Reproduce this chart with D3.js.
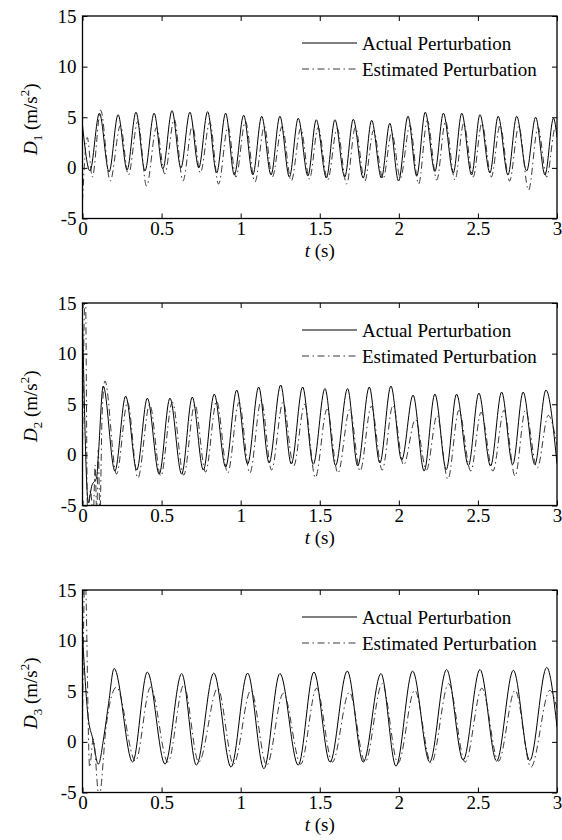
<!DOCTYPE html>
<html>
<head>
<meta charset="utf-8">
<script src="https://cdn.jsdelivr.net/npm/d3@7"></script>
<style>
  body { margin: 0; background: #fff; }
  svg { display: block; }
  .tick text, .lbl { font-family: "Liberation Serif", "Times New Roman", serif; font-size: 19px; fill: #000; }
</style>
</head>
<body>
<div id="chart"></div>
<script>
// tick values and labels
const xTicks = [0, 0.5, 1, 1.5, 2, 2.5, 3];
const yTicks = [-5, 0, 5, 10, 15];
const seriesNames = ["Actual Perturbation", "Estimated Perturbation"];
const panelIndex = ["1", "2", "3"];

// [t, value] (peaks / troughs mostly)
const d1Actual = [[0, 4.2], [0.047, -0.3], [0.107, 5.4], [0.168, -0.4], [0.225, 5.25], [0.282, -0.2], [0.338, 5.5], [0.395, -0.3],
  [0.453, 5.4], [0.508, -0.1], [0.566, 5.65], [0.622, 0], [0.679, 5.5], [0.735, 0], [0.791, 5.55], [0.848, -0.5], [0.905, 5.4],
  [0.96, -0.7], [1.019, 5.2], [1.077, -0.7], [1.133, 5.1], [1.192, -0.7], [1.248, 5.1], [1.308, -0.9], [1.364, 4.9], [1.425, -0.8],
  [1.478, 4.75], [1.542, -1.0], [1.596, 4.75], [1.658, -0.9], [1.712, 4.8], [1.775, -1.0], [1.828, 4.7], [1.89, -1.0], [1.943, 4.4],
  [1.998, -1.3], [2.058, 5.1], [2.113, -0.8], [2.167, 5.5], [2.228, -0.35], [2.282, 5.4], [2.344, -0.5], [2.398, 5.4], [2.46, -0.7],
  [2.513, 5.25], [2.576, -0.5], [2.628, 5.1], [2.69, -0.7], [2.745, 5.1], [2.808, -0.3], [2.865, 5.0], [2.924, -0.7], [2.978, 4.9], [3.0, 3.0]];
const d1Estimated = [[0, -3.3], [0.03, 3.0], [0.062, -0.9], [0.115, 5.7], [0.175, -1.3], [0.24, 4.2], [0.29, -0.7], [0.35, 4.6],
  [0.405, -1.8], [0.468, 4.0], [0.52, -0.6], [0.58, 4.8], [0.635, -1.3], [0.695, 4.2], [0.745, -0.5], [0.805, 4.5], [0.86, -1.6],
  [0.92, 4.1], [0.97, -0.9], [1.03, 4.6], [1.09, -1.4], [1.15, 4.1], [1.2, -0.9], [1.262, 4.1], [1.32, -1.3], [1.38, 3.9], [1.435, -1.1],
  [1.49, 4.0], [1.55, -1.2], [1.61, 3.9], [1.67, -1.6], [1.725, 4.0], [1.785, -1.3], [1.84, 3.7], [1.9, -1.1], [1.955, 3.5], [2.01, -1.0],
  [2.07, 4.2], [2.125, -1.6], [2.18, 4.7], [2.24, -1.2], [2.295, 4.6], [2.355, -1.2], [2.41, 4.4], [2.47, -0.9], [2.525, 4.4],
  [2.585, -0.9], [2.64, 4.2], [2.7, -1.3], [2.758, 4.1], [2.82, -2.2], [2.88, 4.0], [2.935, -0.9], [2.99, 4.0], [3.0, 3.7]];

const d2Actual = [[0, 13.5], [0.037, -4.75], [0.058, -3.1], [0.09, -2.2], [0.1, -0.1], [0.131, 6.8], [0.205, -1.6], [0.273, 5.8],
  [0.343, -1.5], [0.41, 5.6], [0.485, -1.9], [0.553, 5.6], [0.627, -1.9], [0.694, 5.7], [0.764, -1.5], [0.833, 6.0], [0.905, -1.2],
  [0.975, 6.4], [1.044, -0.9], [1.114, 6.7], [1.18, -0.8], [1.253, 6.9], [1.32, -0.9], [1.392, 6.7], [1.459, -0.93], [1.533, 6.55],
  [1.6, -1.05], [1.676, 6.55], [1.74, -1.1], [1.813, 6.7], [1.88, -0.8], [1.95, 6.8], [2.018, -0.5], [2.09, 5.9], [2.16, -1.6],
  [2.228, 6.0], [2.3, -1.45], [2.365, 6.0], [2.44, -1.05], [2.506, 6.1], [2.58, -1.1], [2.65, 6.2], [2.72, -0.95], [2.786, 6.2],
  [2.86, -0.95], [2.93, 6.4], [3.0, -0.9]];
const d2Estimated = [[0, 0], [0.018, 17], [0.032, -6], [0.05, -3.5], [0.068, -6], [0.08, -1], [0.09, -6], [0.1, 0.5], [0.11, -6],
  [0.124, 4], [0.142, 7.3], [0.215, -1.9], [0.285, 5.2], [0.35, -2.3], [0.425, 5.0], [0.495, -2.1], [0.568, 5.2], [0.64, -2.0],
  [0.71, 5.0], [0.778, -1.7], [0.848, 5.3], [0.918, -1.8], [0.99, 5.2], [1.058, -1.8], [1.13, 5.4], [1.195, -1.5], [1.268, 5.2],
  [1.335, -1.1], [1.405, 5.0], [1.472, -2.25], [1.546, 4.5], [1.615, -1.8], [1.69, 4.5], [1.755, -1.6], [1.826, 4.8], [1.895, -1.5],
  [1.963, 4.9], [2.03, -1.0], [2.105, 3.5], [2.175, -1.5], [2.242, 3.9], [2.31, -2.4], [2.38, 4.4], [2.455, -1.6], [2.52, 4.2],
  [2.595, -1.6], [2.665, 4.4], [2.735, -2.1], [2.8, 4.4], [2.875, -1.3], [2.945, 3.9], [3.0, 1.0]];

const d3Actual = [[0, 10.5], [0.035, 2.5], [0.065, 0.3], [0.1, -2.2], [0.135, 0.5], [0.165, 3.8], [0.2, 7.25], [0.317, -2.0],
  [0.41, 6.9], [0.522, -2.2], [0.627, 6.75], [0.72, -2.3], [0.83, 6.8], [0.939, -2.5], [1.044, 6.8], [1.147, -2.65], [1.248, 6.75],
  [1.364, -2.3], [1.463, 6.9], [1.565, -2.0], [1.674, 7.0], [1.775, -2.0], [1.887, 6.75], [1.982, -2.4], [2.087, 7.0], [2.195, -2.0],
  [2.302, 7.15], [2.407, -1.8], [2.513, 7.15], [2.618, -1.9], [2.724, 7.08], [2.828, -1.85], [2.935, 7.35], [3.0, 1.5]];
const d3Estimated = [[0, 2], [0.016, 17], [0.045, -2.5], [0.068, 0.3], [0.105, -5.5], [0.15, 1.6], [0.215, 5.4], [0.335, -1.9],
  [0.43, 5.4], [0.54, -2.0], [0.64, 5.6], [0.735, -2.0], [0.855, 5.3], [0.955, -2.2], [1.065, 5.1], [1.165, -2.3], [1.27, 4.8],
  [1.38, -2.2], [1.48, 5.3], [1.58, -2.0], [1.687, 4.9], [1.787, -2.0], [1.895, 5.75], [1.995, -2.1], [2.1, 5.1], [2.205, -2.1],
  [2.315, 5.75], [2.42, -2.0], [2.525, 5.3], [2.63, -1.9], [2.735, 5.1], [2.835, -2.5], [2.955, 5.1], [3.0, 3.3]];

const panelData = [[d1Actual, d1Estimated], [d2Actual, d2Estimated], [d3Actual, d3Estimated]];

// layout
const W = 562, H = 840;
const left = 82.5, right = 557;
const tops = [16, 303, 590], plotH = 202.5;
const dashPattern = "7,3.5,1.5,3.5";

const svg = d3.select("#chart").append("svg")
  .attr("width", W).attr("height", H)
  .attr("viewBox", [0, 0, W, H].join(" "));

const x = d3.scaleLinear().domain([0, 3]).range([left, right]);

panelData.forEach(function (series, p) {
  const top = tops[p], bottom = top + plotH;
  const y = d3.scaleLinear().domain([-5, 15]).range([bottom, top]);
  const g = svg.append("g");

  g.append("clipPath").attr("id", "clip" + p)
    .append("rect").attr("x", left).attr("y", top).attr("width", right - left).attr("height", plotH);

  // axes with inward ticks
  g.append("g").attr("transform", "translate(0," + bottom + ")")
    .call(d3.axisBottom(x).tickValues(xTicks).tickFormat(String).tickSizeInner(-5).tickSizeOuter(0).tickPadding(3))
    .call(a => a.select(".domain").remove());
  g.append("g").attr("transform", "translate(0," + top + ")")
    .call(d3.axisTop(x).tickValues(xTicks).tickFormat("").tickSizeInner(-5).tickSizeOuter(0))
    .call(a => a.select(".domain").remove());
  g.append("g").attr("transform", "translate(" + left + ",0)")
    .call(d3.axisLeft(y).tickValues(yTicks).tickFormat(String).tickSizeInner(-5).tickSizeOuter(0).tickPadding(6))
    .call(a => a.select(".domain").remove());
  g.append("g").attr("transform", "translate(" + right + ",0)")
    .call(d3.axisRight(y).tickValues(yTicks).tickFormat("").tickSizeInner(-5).tickSizeOuter(0))
    .call(a => a.select(".domain").remove());
  g.selectAll(".tick line").attr("stroke", "#000").attr("stroke-width", 1);

  const line = d3.line().x(d => x(d[0])).y(d => y(d[1])).curve(d3.curveMonotoneX);

  const lines = g.append("g").attr("clip-path", "url(#clip" + p + ")");
  lines.append("path").datum(series[0])
    .attr("d", line).attr("fill", "none").attr("stroke", "#000").attr("stroke-width", 1);
  lines.append("path").datum(series[1])
    .attr("d", line).attr("fill", "none").attr("stroke", "#222").attr("stroke-width", 0.9)
    .attr("stroke-dasharray", dashPattern);

  // box
  g.append("rect").attr("x", left).attr("y", top).attr("width", right - left).attr("height", plotH)
    .attr("fill", "none").attr("stroke", "#000").attr("stroke-width", 1.3);

  // legend
  seriesNames.forEach(function (name, i) {
    const ly = top + 27 + i * 26;
    g.append("line").attr("x1", 302).attr("x2", 357).attr("y1", ly).attr("y2", ly)
      .attr("stroke", i ? "#222" : "#000").attr("stroke-width", i ? 0.9 : 1)
      .attr("stroke-dasharray", i ? dashPattern : null);
    g.append("text").attr("class", "lbl").attr("x", 362).attr("y", ly + 7).text(name);
  });

  // x label
  const xl = g.append("text").attr("class", "lbl").attr("x", (left + right) / 2).attr("y", bottom + 38)
    .attr("text-anchor", "middle");
  xl.append("tspan").attr("font-style", "italic").text("t");
  xl.append("tspan").text(" (s)");

  // y label
  const yl = g.append("text").attr("class", "lbl")
    .attr("transform", "translate(36.5," + (top + plotH / 2 + 2) + ") rotate(-90)")
    .attr("text-anchor", "middle");
  yl.append("tspan").attr("font-style", "italic").text("D");
  yl.append("tspan").attr("font-size", 13).attr("dy", 5).text(panelIndex[p]);
  yl.append("tspan").attr("dy", -5).text(" (m/s");
  yl.append("tspan").attr("font-size", 13).attr("dy", -8).text("2");
  yl.append("tspan").attr("dy", 8).text(")");
});
</script>
</body>
</html>
